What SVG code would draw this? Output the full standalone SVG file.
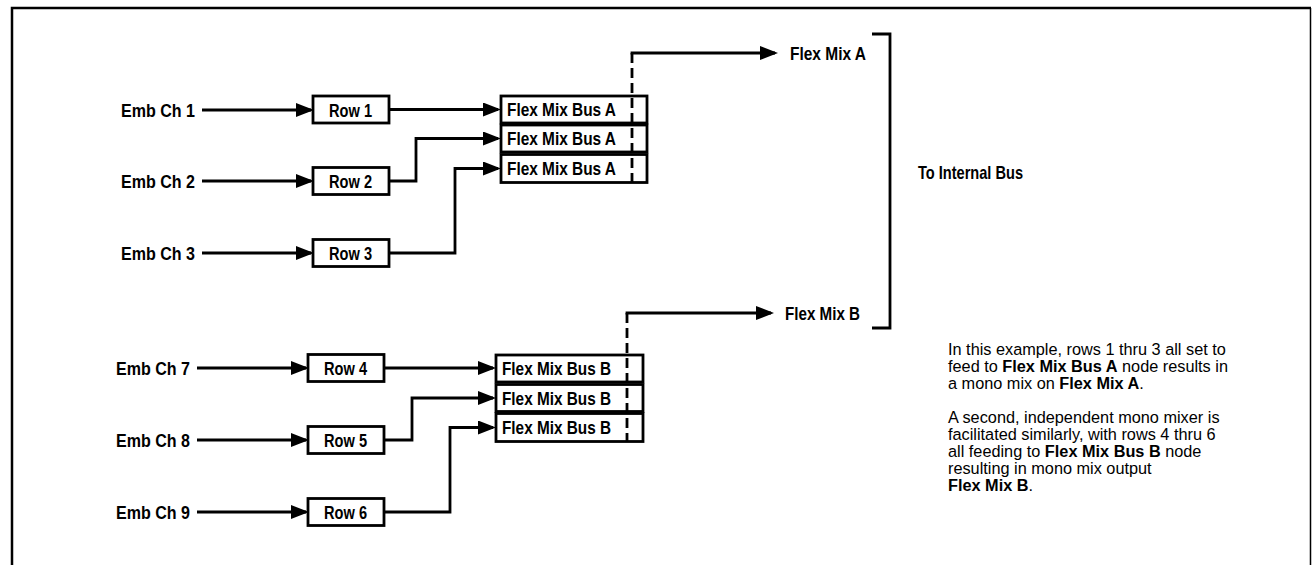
<svg xmlns="http://www.w3.org/2000/svg" width="1312" height="565" viewBox="0 0 1312 565">
<defs>
<style>
.lbl{font-family:"Liberation Sans Narrow","Arial Narrow","Liberation Sans",sans-serif;font-weight:bold;font-size:18.5px;fill:#000}
.box{fill:#fff;stroke:#000;stroke-width:2.8}
.ln{fill:none;stroke:#000;stroke-width:2.8}
.dash{fill:none;stroke:#000;stroke-width:2.8;stroke-dasharray:10 5}
.para{font-family:"Liberation Sans",Arial,sans-serif;font-size:16.3px;fill:#000}
.b{font-weight:bold}
</style>
<marker id="arr" markerUnits="userSpaceOnUse" markerWidth="18" markerHeight="14" refX="15" refY="7" orient="auto">
<path d="M0,0 L18,7 L0,14 z" fill="#000"/>
</marker>
</defs>
<rect width="1312" height="565" fill="#fff"/>
<g id="frame">
<path d="M12,565 V8 H1311" fill="none" stroke="#000" stroke-width="2.5"/>
<path d="M1310.5,8 V565" fill="none" stroke="#000" stroke-width="1.5"/>
</g>
<g id="connectors">
<path class="ln" d="M202,110 H311" marker-end="url(#arr)"/>
<path class="ln" d="M202,181 H311" marker-end="url(#arr)"/>
<path class="ln" d="M202,253 H311" marker-end="url(#arr)"/>
<path class="ln" d="M389,109.5 H498" marker-end="url(#arr)"/>
<path class="ln" d="M389,181 H416 V138.5 H498" marker-end="url(#arr)"/>
<path class="ln" d="M389,253 H455 V168.5 H498" marker-end="url(#arr)"/>
<path class="ln" d="M197,368 H306" marker-end="url(#arr)"/>
<path class="ln" d="M197,440 H306" marker-end="url(#arr)"/>
<path class="ln" d="M197,512 H306" marker-end="url(#arr)"/>
<path class="ln" d="M384,368 H493" marker-end="url(#arr)"/>
<path class="ln" d="M384,440 H412 V398 H493" marker-end="url(#arr)"/>
<path class="ln" d="M384,512 H450 V427.5 H493" marker-end="url(#arr)"/>
<path class="ln" d="M630.6,53 H775" marker-end="url(#arr)"/>
<path class="ln" d="M625.6,313 H771" marker-end="url(#arr)"/>
<path class="ln" d="M872,34 H890 V328 H872"/>
</g>
<g id="emb1"><text class="lbl" x="195" y="116.5" text-anchor="end" textLength="74" lengthAdjust="spacingAndGlyphs">Emb Ch 1</text></g>
<g id="emb2"><text class="lbl" x="195" y="187.5" text-anchor="end" textLength="74" lengthAdjust="spacingAndGlyphs">Emb Ch 2</text></g>
<g id="emb3"><text class="lbl" x="195" y="259.5" text-anchor="end" textLength="74" lengthAdjust="spacingAndGlyphs">Emb Ch 3</text></g>
<g id="emb7"><text class="lbl" x="190" y="374.5" text-anchor="end" textLength="74" lengthAdjust="spacingAndGlyphs">Emb Ch 7</text></g>
<g id="emb8"><text class="lbl" x="190" y="446.5" text-anchor="end" textLength="74" lengthAdjust="spacingAndGlyphs">Emb Ch 8</text></g>
<g id="emb9"><text class="lbl" x="190" y="518.5" text-anchor="end" textLength="74" lengthAdjust="spacingAndGlyphs">Emb Ch 9</text></g>
<g id="row1"><rect class="box" x="313" y="96" width="76" height="27"/><text class="lbl" x="329" y="116.5" textLength="43" lengthAdjust="spacingAndGlyphs">Row 1</text></g>
<g id="row2"><rect class="box" x="313" y="167.5" width="76" height="27"/><text class="lbl" x="329" y="188" textLength="43" lengthAdjust="spacingAndGlyphs">Row 2</text></g>
<g id="row3"><rect class="box" x="313" y="239.5" width="76" height="27"/><text class="lbl" x="329" y="260" textLength="43" lengthAdjust="spacingAndGlyphs">Row 3</text></g>
<g id="row4"><rect class="box" x="308" y="354.5" width="76" height="27"/><text class="lbl" x="324" y="375" textLength="43" lengthAdjust="spacingAndGlyphs">Row 4</text></g>
<g id="row5"><rect class="box" x="308" y="426.5" width="76" height="27"/><text class="lbl" x="324" y="447" textLength="43" lengthAdjust="spacingAndGlyphs">Row 5</text></g>
<g id="row6"><rect class="box" x="308" y="498.5" width="76" height="27"/><text class="lbl" x="324" y="519" textLength="43" lengthAdjust="spacingAndGlyphs">Row 6</text></g>
<g id="busA1"><rect class="box" x="501" y="96" width="146" height="27"/><text class="lbl" x="507" y="116" textLength="109" lengthAdjust="spacingAndGlyphs">Flex Mix Bus A</text></g>
<g id="busA2"><rect class="box" x="501" y="125" width="146" height="27"/><text class="lbl" x="507" y="145" textLength="109" lengthAdjust="spacingAndGlyphs">Flex Mix Bus A</text></g>
<g id="busA3"><rect class="box" x="501" y="154.5" width="146" height="28"/><text class="lbl" x="507" y="174.5" textLength="109" lengthAdjust="spacingAndGlyphs">Flex Mix Bus A</text></g>
<g id="busB1"><rect class="box" x="496" y="355" width="147" height="27"/><text class="lbl" x="502" y="375" textLength="109" lengthAdjust="spacingAndGlyphs">Flex Mix Bus B</text></g>
<g id="busB2"><rect class="box" x="496" y="384.5" width="147" height="27"/><text class="lbl" x="502" y="404.5" textLength="109" lengthAdjust="spacingAndGlyphs">Flex Mix Bus B</text></g>
<g id="busB3"><rect class="box" x="496" y="413.5" width="147" height="28"/><text class="lbl" x="502" y="434" textLength="109" lengthAdjust="spacingAndGlyphs">Flex Mix Bus B</text></g>
<g id="dashes">
<path class="dash" d="M632,53 V183"/>
<path class="dash" d="M627,313 V441"/>
</g>
<g id="outA"><text class="lbl" x="790" y="59.5" textLength="76" lengthAdjust="spacingAndGlyphs">Flex Mix A</text></g>
<g id="outB"><text class="lbl" x="785" y="319.5" textLength="75" lengthAdjust="spacingAndGlyphs">Flex Mix B</text></g>
<g id="internal"><text class="lbl" x="918" y="178.5" textLength="105" lengthAdjust="spacingAndGlyphs">To Internal Bus</text></g>
<g id="note">
<text class="para" x="948" y="355">In this example, rows 1 thru 3 all set to</text>
<text class="para" x="948" y="372">feed to <tspan class="b">Flex Mix Bus A</tspan> node results in</text>
<text class="para" x="948" y="389">a mono mix on <tspan class="b">Flex Mix A</tspan>.</text>
<text class="para" x="948" y="423">A second, independent mono mixer is</text>
<text class="para" x="948" y="440">facilitated similarly, with rows 4 thru 6</text>
<text class="para" x="948" y="457">all feeding to <tspan class="b">Flex Mix Bus B</tspan> node</text>
<text class="para" x="948" y="474">resulting in mono mix output</text>
<text class="para" x="948" y="491"><tspan class="b">Flex Mix B</tspan>.</text>
</g>
</svg>
